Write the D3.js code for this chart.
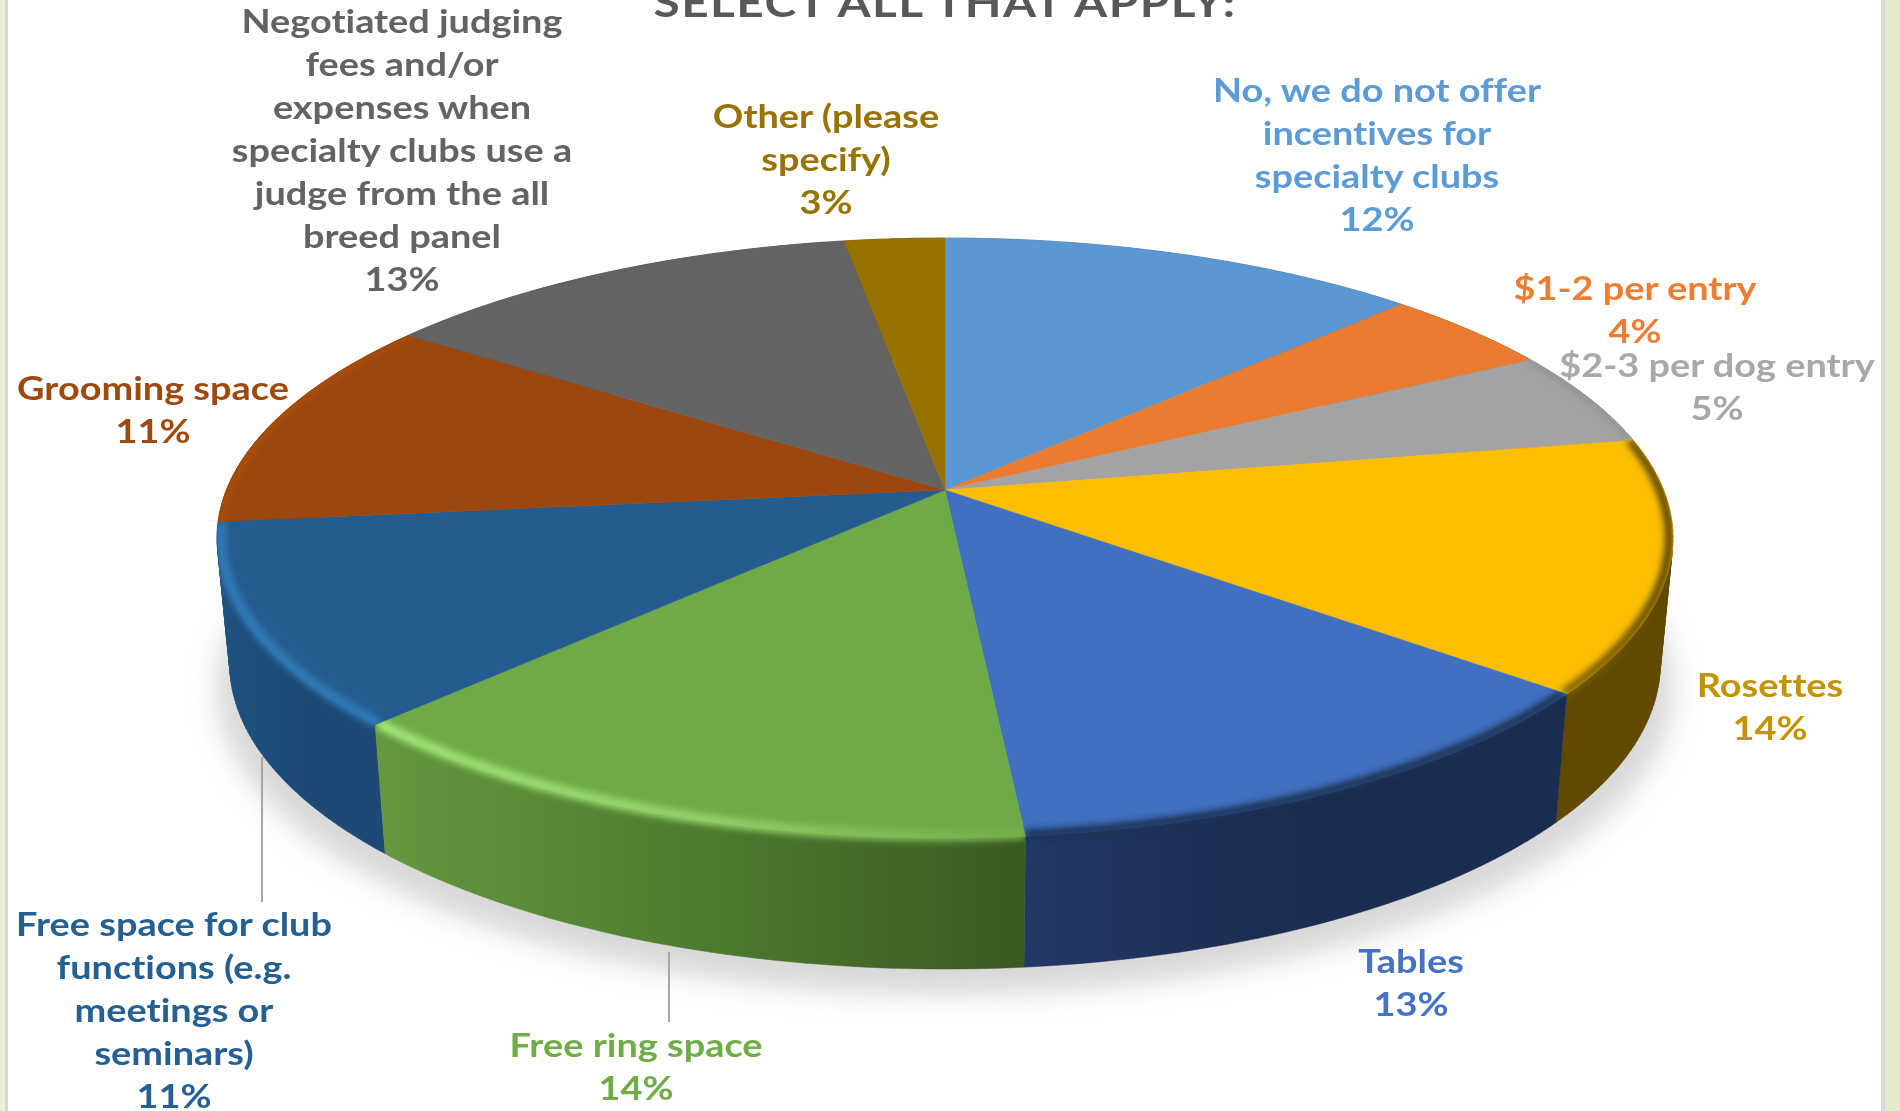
<!DOCTYPE html>
<html><head><meta charset="utf-8">
<script src="https://cdn.jsdelivr.net/npm/d3@7/dist/d3.min.js"></script>
<style>html,body{margin:0;padding:0;background:#fff;overflow:hidden}svg{display:block}
text{font-family:Lato,"Open Sans",sans-serif;font-weight:700;font-variant-ligatures:none}</style>
</head><body>
<svg id="c" width="1900" height="1111"></svg>
<script>
// ---- data ----
const titleText = "SELECT ALL THAT APPLY:";
const categories = ["No, we do not offer incentives for specialty clubs","$1-2 per entry","$2-3 per dog entry","Rosettes","Tables","Free ring space","Free space for club functions (e.g. meetings or seminars)","Grooming space","Negotiated judging fees and/or expenses when specialty clubs use a judge from the all breed panel","Other (please specify)"];
const shares = [12.5,4.55,5.15,13.6,12.7,13.9,10.9,11.5,12.6,2.6];
const percentLabels = ["12%","4%","5%","14%","13%","14%","11%","11%","13%","3%"];
const labelLines = [
 ["No, we do not offer","incentives for","specialty clubs"],
 ["$1-2 per entry"],["$2-3 per dog entry"],["Rosettes"],["Tables"],["Free ring space"],
 ["Free space for club","functions (e.g.","meetings or","seminars)"],
 ["Grooming space"],
 ["Negotiated judging","fees and/or","expenses when","specialty clubs use a","judge from the all","breed panel"],
 ["Other (please","specify)"]];

// ---- styles / layout ----
const topColors  = ["#5b98d3","#e97c31","#a3a3a3","#fbbf00","#4170c0","#6eab47","#255c8f","#9b470e","#636363","#977200"];
const textColors = ["#5b9bd5","#ed7d31","#a8a8a8","#c49300","#4472c4","#70ad47","#255e91","#9e480e","#636363","#997300"];
const wallStops  = [["#33587f","#33587f"],["#8a4a1c","#8a4a1c"],["#5f5f5f","#5f5f5f"],["#614a00","#614a00"],
                    ["#223865","#1a2c50","#1a2c50"],["#65983f","#4e7b30","#3a5821"],["#1f517f","#1d4a75","#1d4a75"],["#5c2a08","#5c2a08"],["#3a3a3a","#3a3a3a"],["#5a4400","#5a4400"]];
const rimStops   = [["#5b98d3","#5b98d3"],["#c96a29","#c96a29"],["#7c7c7c","#7c7c7c"],["#8a6b00","#5e4700"],
                    ["#1c3055","#1c3055"],["#a0e474","#93d068","#72ad49"],["#2f78b4","#2f78b4"],["#b9550f","#b9550f"],["#636363","#636363"],["#977200","#977200"]];
const rimWidths  = [0,0,2,9,9,11,11,3,0,0];
const labelPos = [[1377,102],[1635,300],[1717,377],[1770,697],[1411,973],[636,1057],[174,936],[153,400],[402,33],[826,128]];
const lineStep = 43;
const textStretch = 1.166;
const leaders = [[262,757,902],[669,952,1022]];

// perspective planes: the pie is a circle seen at a tilt
const cx = 945, tilt = 0.16;
const planeTop = {cy:490, a:718.6, d:292.3};
const planeBot = {cy:615, a:706,   d:297.4};
function project(angle, p, r=1){
  const u = r*Math.sin(angle), v = -r*Math.cos(angle), w = 1 - tilt*v;
  return [cx + p.a*u/w, p.cy + p.d*v/w];
}
const N = 60;
const arcPts = (a0,a1,p,r=1)=>d3.range(0,N+1).map(i=>project(a0+(a1-a0)*i/N,p,r));
const line = d3.line();
// wall of a slice: a strip of small quads, so its sweep fills the whole silhouette
function wallPath(a0,a1){
  const t = arcPts(a0,a1,planeTop), b = arcPts(a0,a1,planeBot);
  return d3.range(0,N).map(i=>{
    const q=[t[i],t[i+1],b[i+1],b[i]];
    const area=d3.polygonArea(q);
    return line(area<0?q:q.slice().reverse())+"Z";
  }).join("");
}

const pie = d3.pie().sort(null).value(d=>d);
const arcs = pie(shares);

const svg = d3.select("#c");
const defs = svg.append("defs");
const blur = (id,s)=>defs.append("filter").attr("id",id).attr("filterUnits","userSpaceOnUse")
  .attr("x",-100).attr("y",-100).attr("width",2100).attr("height",1311)
  .append("feGaussianBlur").attr("stdDeviation",s);
blur("shadow",13); blur("rim",3.4); blur("txt",0.65);
const hGrad=(id,x0,x1,stops)=>{
  const g = defs.append("linearGradient").attr("id",id).attr("gradientUnits","userSpaceOnUse")
    .attr("x1",x0).attr("x2",x1).attr("y1",0).attr("y2",0);
  stops.forEach((c,k,a)=>g.append("stop").attr("offset",k/(a.length-1)).attr("stop-color",c));
};

// page frame
svg.append("rect").attr("width",1900).attr("height",1111).attr("fill","#fff");
svg.append("rect").attr("x",0).attr("y",0).attr("width",5).attr("height",1111).attr("fill","#eaefd8");
svg.append("rect").attr("x",5).attr("y",0).attr("width",3).attr("height",1111).attr("fill","#d6d6d6");
svg.append("rect").attr("x",1881).attr("y",0).attr("width",4).attr("height",1111).attr("fill","#d9d9d9");
svg.append("rect").attr("x",1885).attr("y",0).attr("width",15).attr("height",1111).attr("fill","#e2ebcc");

// soft shadow below the pie
svg.append("path").attr("d",line(arcPts(0,2*Math.PI,{cy:planeBot.cy+24,a:planeBot.a+14,d:planeBot.d+2}))+"Z")
  .attr("fill","#cfcfcf").attr("opacity",.8).attr("filter","url(#shadow)");

// outer walls, back to front
const wallOrder = arcs.map((d,i)=>({d,i})).sort((a,b)=>
  -Math.cos((a.d.startAngle+a.d.endAngle)/2) - -Math.cos((b.d.startAngle+b.d.endAngle)/2));
wallOrder.forEach(({d,i})=>{
  const xs = arcPts(d.startAngle,d.endAngle,planeTop).concat(arcPts(d.startAngle,d.endAngle,planeBot)).map(p=>p[0]);
  hGrad("wall"+i,d3.min(xs),d3.max(xs),wallStops[i]);
  hGrad("rimc"+i,d3.min(xs),d3.max(xs),rimStops[i]);
  svg.append("path").attr("d",wallPath(d.startAngle,d.endAngle)).attr("fill",`url(#wall${i})`)
     .attr("stroke",`url(#wall${i})`).attr("stroke-width",.5);
});

// top faces
const center = project(0,planeTop,0);
const facePath = d=>line([center].concat(arcPts(d.startAngle,d.endAngle,planeTop)))+"Z";
arcs.forEach((d,i)=>{
  svg.append("path").attr("d",facePath(d)).attr("fill",topColors[i]).attr("stroke",topColors[i]).attr("stroke-width",.5);
});

// bevel along the rim of the top face
arcs.forEach((d,i)=>{
  if(!rimWidths[i]) return;
  const id = "clipRim"+i;
  defs.append("clipPath").attr("id",id).append("path").attr("d",
     (d3.polygonArea([center].concat(arcPts(d.startAngle,d.endAngle,planeTop)))<0
        ? facePath(d)
        : line([center].concat(arcPts(d.startAngle,d.endAngle,planeTop)).reverse())+"Z")
     + wallPath(d.startAngle,d.endAngle));
  svg.append("g").attr("clip-path",`url(#${id})`)
    .append("path").attr("d",line(arcPts(d.startAngle,d.endAngle,planeTop,.995)))
    .attr("fill","none").attr("stroke",`url(#rimc${i})`).attr("stroke-width",rimWidths[i])
    .attr("filter","url(#rim)");
});

// leader lines
svg.append("g").selectAll("line").data(leaders).join("line")
  .attr("x1",d=>d[0]).attr("x2",d=>d[0]).attr("y1",d=>d[1]).attr("y2",d=>d[2])
  .attr("stroke","#a6a6a6").attr("stroke-width",2);

// title, clipped by the top of the picture
const tg = svg.append("g").attr("filter","url(#txt)");
tg.append("text").attr("transform",`translate(945,17) scale(${textStretch},1)`).attr("text-anchor","middle")
  .attr("font-size",41).attr("letter-spacing",1.2).attr("fill","#595959").text(titleText);

// data labels
const lg = svg.append("g").attr("filter","url(#txt)");
categories.forEach((c,i)=>{
  const lines = labelLines[i].concat([percentLabels[i]]);
  lg.append("text").attr("text-anchor","middle").attr("font-size",32.5).attr("fill",textColors[i])
    .attr("transform",`translate(${labelPos[i][0]},0) scale(${textStretch},1)`)
    .selectAll("tspan").data(lines).join("tspan")
    .attr("x",0).attr("y",(d,k)=>labelPos[i][1]+k*lineStep).text(d=>d);
});
</script>
</body></html>
